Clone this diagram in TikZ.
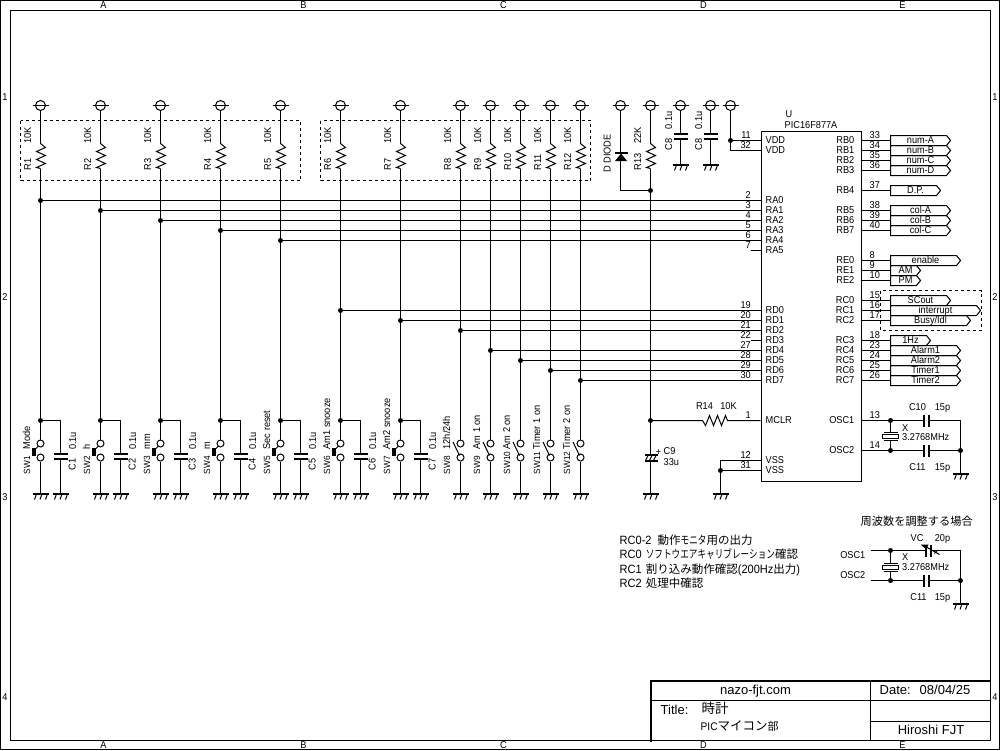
\documentclass[tikz,border=0pt]{standalone}
\usepackage{fontspec}
\setmainfont[FakeStretch=0.92]{Liberation Sans}
\newfontfamily\plainsans{Liberation Sans}
\newfontfamily\cjk{Noto Sans CJK JP}
\newfontfamily\kana[FakeStretch=0.75]{Noto Sans CJK JP}
\newcommand{\jp}[1]{{\cjk\fontsize{11.5}{13}\selectfont #1}}
\newcommand{\jk}[1]{{\kana\fontsize{11.5}{13}\selectfont #1}}
\tikzset{
  wire/.style={line width=1pt},
  lbl/.style={inner sep=0pt,text height=6pt,text depth=0pt,font=\fontsize{10}{11}\selectfont},
  rot/.style={lbl,rotate=90},
  rotsw/.style={rot,font=\fontsize{9}{10}\selectfont},
  big/.style={lbl,font=\fontsize{12}{13}\selectfont,anchor=west},
  ttl/.style={lbl,font=\plainsans\fontsize{13}{14}\selectfont},
  dot/.style={circle,fill=black,inner sep=0pt,minimum size=5pt},
  term/.style={circle,draw,line width=1pt,inner sep=0pt,minimum size=7pt},
  pwrc/.style={circle,draw,line width=1pt,inner sep=0pt,minimum size=10pt},
  gnd/.pic={\draw[line width=2pt] (-8,0)--(8.5,0);
    \foreach \d in {-4,1.5,7}{\draw[line width=1pt] (\d,0.5)--(\d-2,6);}},
  groupbox/.style={dashed,line width=1pt,dash pattern=on 3pt off 3pt},
  plate/.style={line width=2pt},
}
\newcommand{\pwrsym}[2]{\node[pwrc] (#1) at (#2,105) {};
  \draw[wire] ([xshift=-8pt]#1.center) -- ([xshift=8pt]#1.center);}
\newcommand{\vzig}[1]{\draw[wire] (#1) -- ++(5,4) -- ++(-9,4) -- ++(9,4) -- ++(-9,4) -- ++(9,4) -- ++(-9,4) -- ++(4,1);}
\newcommand{\vcap}[3]{% name, x, y of upper plate
  \coordinate (#1a) at (#2,#3); \coordinate (#1b) at (#2,#3+5);
  \draw[plate] (#2-7,#3) -- (#2+7,#3); \draw[plate] (#2-7,#3+5) -- (#2+7,#3+5);}
\newcommand{\hcap}[3]{% name, x of left plate, y
  \coordinate (#1a) at (#2,#3); \coordinate (#1b) at (#2+5,#3);
  \draw[plate] (#2,#3-6) -- (#2,#3+6); \draw[plate] (#2+5,#3-6) -- (#2+5,#3+6);}
\newcommand{\xtal}[3]{% name, x, top plate y
  \coordinate (#1a) at (#2,#3); \coordinate (#1b) at (#2,#3+8);
  \draw[wire] (#2-7,#3) -- (#2+7,#3); \draw[wire] (#2-7,#3+8) -- (#2+7,#3+8);
  \draw[wire] (#2-8,#3+2) rectangle (#2+8,#3+6);}
\begin{document}
\begin{tikzpicture}[x=1pt,y=-1pt,xshift=0.5pt,yshift=-0.5pt]
\useasboundingbox (-0.5,-0.5) rectangle (999.5,749.5);
\fill[white] (-0.5,-0.5) rectangle (999.5,749.5);
% frames
\draw[wire] (0,0) rectangle (999,749);
\draw[wire] (10,10) rectangle (990,740);
\foreach \t/\x in {A/103,B/303,C/503,D/703,E/902}{
  \node[lbl] (top\t) at (\x,5) {\t};
  \node[lbl] (bot\t) at (\x,745) {\t};}
\foreach \t/\y in {1/97,2/297,3/497,4/697}{
  \node[lbl] (lft\t) at (4.5,\y) {\t};
  \node[lbl] (rgt\t) at (994.5,\y) {\t};}
% dashed groups
\draw[groupbox] (20,120) rectangle (300,180);
\draw[groupbox] (320,120) rectangle (590,180);
\draw[groupbox] (880,290) rectangle (980.5,330);
% IC
\node[draw,line width=1pt,inner sep=0pt,minimum width=100pt,minimum height=350pt,anchor=north west] (U) at (760,130) {};
\node[lbl,anchor=west] (Uref) at (785,114) {U};
\node[lbl,anchor=west] (Uval) at (784,125) {PIC16F877A};
\foreach \t/\y/\m in {VDD/140/11,VDD/150/32,RA0/200/2,RA1/210/3,RA2/220/4,RA3/230/5,RA4/240/6,RA5/250/7,
  RD0/310/19,RD1/320/20,RD2/330/21,RD3/340/22,RD4/350/27,RD5/360/28,RD6/370/29,RD7/380/30,MCLR/420/1,VSS/460/12,VSS/470/31}{
  \node[lbl,anchor=west] (pn\m) at (765,\y) {\t};
  \node[lbl,anchor=east] (num\m) at (750.5,\y-5.5) {\m};
  \coordinate (L\m) at (760,\y);}
\foreach \t/\y/\m in {RB0/140/33,RB1/150/34,RB2/160/35,RB3/170/36,RB4/190/37,RB5/210/38,RB6/220/39,RB7/230/40,
  RE0/260/8,RE1/270/9,RE2/280/10,RC0/300/15,RC1/310/16,RC2/320/17,RC3/340/18,RC4/350/23,RC5/360/24,RC6/370/25,RC7/380/26,OSC1/420/13,OSC2/450/14}{
  \node[lbl,anchor=east] (pn\m) at (854,\y) {\t};
  \node[lbl,anchor=west] (num\m) at (869,\y-5.5) {\m};
  \coordinate (R\m) at (860,\y);}
% flags
\foreach \m/\y/\tip/\t in {33/140/950/num-A,34/150/950/num-B,35/160/950/num-C,36/170/950/num-D,37/190/940/D.P.,
  38/210/950/col-A,39/220/950/col-B,40/230/950/col-C,8/260/960/enable,9/270/920/AM,10/280/920/PM,
  15/300/950/SCout,16/310/980/interrupt,17/320/970/{Busy/Idl},18/340/930/1Hz,23/350/960/Alarm1,24/360/960/Alarm2,25/370/960/Timer1,26/380/960/Timer2}{
  \coordinate (F\m) at (890,\y);
  \draw[wire] (R\m) -- (F\m);
  \draw[wire] (890,\y-5) -- (\tip-4,\y-5) -- (\tip,\y) -- (\tip-4,\y+5) -- (890,\y+5) -- cycle;
  \node[lbl] (flag\m) at ({(890+\tip)/2},\y) {\t};}
% pull-ups, switches
\foreach \n/\x/\lab in {1/40/Mode,2/100/h,3/160/mm,4/220/m,5/280/Sec reset,6/340/Am1 snooze,7/400/Am2 snooze,
  8/460/{12h/24h},9/490/Am 1 on,10/520/Am 2 on,11/550/Timer 1 on,12/580/Timer 2 on}{
  \pwrsym{V\n}{\x}
  \coordinate (Ra\n) at (\x,143);
  \coordinate (Rb\n) at (\x,168);
  \draw[wire] (V\n) -- (Ra\n);
  \vzig{Ra\n}
  \node[rot,anchor=west] (Rn\n) at (\x-12.5,170) {R\n};
  \node[rot] (Rv\n) at (\x-12.5,135) {10K};
  \node[term] (Sa\n) at (\x,443) {};
  \node[term] (Sb\n) at (\x,457) {};
  \coordinate (G\n) at (\x,493);
  \draw[wire] (Rb\n) -- (Sa\n);
  \draw[wire] (Sb\n) -- (G\n);
  \pic at (G\n) {gnd};
  \node[rotsw,anchor=west] (Sn\n) at (\x-13.5,474) {SW\n};
  \node[rot,anchor=west] (Sl\n) at (\x-13.5,449) {\lab};
}
\foreach \n/\x in {1/40,2/100,3/160,4/220,5/280,6/340,7/400}{
  \node[dot] (J\n) at (\x,420) {};
  \coordinate (Tp\n) at (\x+20,420);
  \coordinate (Cg\n) at (\x+20,493);
  \vcap{Cc\n}{\x+20}{453}
  \draw[wire] (J\n) -- (Tp\n) -- (Cc\n a);
  \draw[wire] (Cc\n b) -- (Cg\n);
  \pic at (Cg\n) {gnd};
  \node[rot] (Cv\n) at (\x+32.5,440.5) {0.1u};
  \node[rot] (Cn\n) at (\x+32,464) {C\n};
  \fill (\x-8.5,447) rectangle (\x-4.5,455);
  \draw[wire] (\x-4.5,448) -- (\x-2,445.5);
}
\foreach \n/\x in {8/460,9/490,10/520,11/550,12/580}{
  \coordinate (Ta\n) at (\x-7.5,441.5);
  \coordinate (Tb\n) at (\x-1,455);
  \draw[wire] (Ta\n) -- (Tb\n);
}
% port A and D buses
\foreach \n/\m/\x/\y in {1/2/40/200,2/3/100/210,3/4/160/220,4/5/220/230,5/6/280/240,
  6/19/340/310,7/20/400/320,8/21/460/330,9/27/490/350,10/28/520/360,11/29/550/370,12/30/580/380}{
  \node[dot] (B\n) at (\x,\y) {};
  \draw[wire] (B\n) -- (L\m);
}
\coordinate (St7) at (750,250); \draw[wire] (St7) -- (L7);
\coordinate (St22) at (750,340); \draw[wire] (St22) -- (L22);
% diode and R13
\pwrsym{VD}{620}
\coordinate (Da) at (620,152);
\coordinate (Db) at (620,160);
\coordinate (Dc) at (620,190);
\draw[wire] (VD) -- (Da);
\draw[plate] (614,152.5) -- (627,152.5);
\fill (620.5,153) -- (614.5,160.5) -- (626.5,160.5) -- cycle;
\draw[wire] (Db) -- (Dc);
\node[rot] (Dlab) at (607,153) {D DIODE};
\pwrsym{VR}{650}
\coordinate (Ra13) at (650,143);
\coordinate (Rb13) at (650,168);
\draw[wire] (VR) -- (Ra13);
\vzig{Ra13}
\node[dot] (JD) at (650,190) {};
\node[dot] (JM) at (650,420) {};
\draw[wire] (Dc) -- (JD);
\draw[wire] (Rb13) -- (JD) -- (JM);
\node[rot,anchor=west] (Rn13) at (637.5,170) {R13};
\node[rot] (Rv13) at (637.5,135) {22K};
% decoupling
\foreach \n/\x in {a/680,b/710}{
  \pwrsym{VC\n}{\x}
  \vcap{Cd\n}{\x}{133}
  \coordinate (Gd\n) at (\x,164);
  \draw[wire] (VC\n) -- (Cd\n a);
  \draw[wire] (Cd\n b) -- (Gd\n);
  \pic at (Gd\n) {gnd};
  \node[rot] (Cdv\n) at (\x-11.5,120) {0.1u};
  \node[rot] (Cdn\n) at (\x-11.5,144) {C8};
}
\pwrsym{VU}{730}
\node[dot] (JV) at (730,140) {};
\coordinate (CV) at (730,150);
\draw[wire] (VU) -- (JV) -- (CV) -- (L32);
\draw[wire] (JV) -- (L11);
% MCLR
\coordinate (Za) at (702,420);
\coordinate (Zb) at (727,420);
\draw[wire] (JM) -- (Za) -- ++(3,5) -- ++(4,-10) -- ++(4,10) -- ++(4,-10) -- ++(4,10) -- ++(4,-10) -- (Zb) -- (L1);
\node[lbl] (R14n) at (704,406) {R14};
\node[lbl] (R14v) at (728,406) {10K};
% C9
\coordinate (C9a) at (650,454);
\coordinate (C9b) at (650,460);
\coordinate (G9) at (650,493);
\draw[wire] (JM) -- (C9a);
\draw[wire] (C9b) -- (G9);
\draw[plate] (644,454) -- (657,454);
\draw[plate] (644,460) -- (657,460);
\foreach \d in {648,652,656}{\draw[wire] (\d,454) -- (\d-3,460);}
\pic at (G9) {gnd};
\node[lbl] (C9p) at (658,452) {+};
\node[lbl,anchor=west] (C9n) at (663,450.5) {C9};
\node[lbl,anchor=west] (C9v) at (663,461.5) {33u};
% VSS
\coordinate (Vs) at (720,460);
\node[dot] (JS) at (720,470) {};
\coordinate (GS) at (720,493);
\draw[wire] (L12) -- (Vs) -- (JS) -- (GS);
\draw[wire] (JS) -- (L31);
\pic at (GS) {gnd};
% oscillator
\node[dot] (O1) at (890,420) {};
\node[dot] (O2) at (890,450) {};
\node[dot] (O3) at (960,450) {};
\coordinate (O4) at (960,420);
\coordinate (GO) at (960,473);
\draw[wire] (R13) -- (O1);
\draw[wire] (R14) -- (O2);
\hcap{C10}{923}{420}
\hcap{C11}{923}{450}
\draw[wire] (O1) -- (C10a);
\draw[wire] (C10b) -- (O4) -- (O3) -- (GO);
\draw[wire] (O2) -- (C11a);
\draw[wire] (C11b) -- (O3);
\pic at (GO) {gnd};
\xtal{Xa}{890}{432}
\draw[wire] (O1) -- (Xaa);
\draw[wire] (Xab) -- (O2);
\node[lbl] (C10n) at (917,406.5) {C10};
\node[lbl] (C10v) at (942,406.5) {15p};
\node[lbl] (C11n) at (917,466.5) {C11};
\node[lbl] (C11v) at (942,466.5) {15p};
\node[lbl,anchor=west] (Xn) at (901.5,427.5) {X};
\node[lbl,anchor=west] (Xv) at (901.5,437) {3.2768MHz};
% notes
\node[big] (nA) at (619,541) {RC0-2\hspace{3pt} \jp{動作}\jk{モニタ}\jp{用の出力}};
\node[big] (nB) at (619,555) {RC0\hspace{1pt} \jk{ソフトウエアキャリブレーション}\jp{確認}};
\node[big] (nC) at (619,569.5) {RC1\hspace{1pt} \jp{割り込み動作確認}(200Hz\jp{出力})};
\node[big] (nD) at (619,584) {RC2\hspace{1pt} \jp{処理中確認}};
\node[lbl,anchor=west,font=\cjk\fontsize{11.2}{13}\selectfont] (nE) at (860,521.5) {周波数を調整する場合};
% alternative oscillator
\node[lbl,anchor=east] (aO1) at (865,555) {OSC1};
\node[lbl,anchor=east] (aO2) at (865,575) {OSC2};
\coordinate (A1) at (870,550);
\coordinate (A2) at (870,580);
\node[dot] (A3) at (890,550) {};
\node[dot] (A4) at (890,580) {};
\node[dot] (A5) at (960,580) {};
\coordinate (A6) at (960,550);
\coordinate (GA) at (960,603);
\hcap{VCc}{925.5}{550}
\hcap{Cb}{923}{580}
\draw[wire] (A1) -- (A3) -- (VCca);
\draw[wire] (VCcb) -- (A6) -- (A5) -- (GA);
\draw[wire] (A2) -- (A4) -- (Cba);
\draw[wire] (Cbb) -- (A5);
\pic at (GA) {gnd};
\xtal{Xb}{890}{562.5}
\draw[wire] (A3) -- (Xba);
\draw[wire] (Xbb) -- (A4);
\fill (920,544) -- (928,544) -- (926,549) -- cycle;
\draw[wire] (925,546) -- (939,554);
\draw[wire] (934,553) -- (937,549.5);
\node[lbl] (VCn) at (916.5,537.5) {VC};
\node[lbl] (VCv) at (942,537.5) {20p};
\node[lbl,anchor=west] (Xbn) at (901.5,556.5) {X};
\node[lbl,anchor=west] (Xbv) at (901.5,567) {3.2768MHz};
\node[lbl] (Cbn) at (918,596.5) {C11};
\node[lbl] (Cbv) at (942,596.5) {15p};
% title block
\draw[line width=2.5pt] (650.7,741) -- (650.7,680.5) -- (990,680.5);
\draw[wire] (650,700) -- (990,700);
\draw[wire] (870,680) -- (870,740);
\draw[wire] (870,720.5) -- (990,720.5);
\node[ttl] (tA) at (755,691) {nazo-fjt.com};
\node[ttl,anchor=west] (tB) at (879,691) {Date:};
\node[ttl,anchor=west] (tC) at (919,691) {08/04/25};
\node[ttl,anchor=west] (tD) at (660,710.5) {Title:};
\node[ttl,anchor=west,font=\cjk\fontsize{13.5}{15}\selectfont] (tE) at (701,710) {時計};
\node[lbl,anchor=west,font=\fontsize{11}{14}\selectfont] (tF) at (700,727) {PIC{\cjk\fontsize{12.5}{15}\selectfont マイコン}{\cjk\fontsize{11}{15}\selectfont 部}};
\node[ttl] (tG) at (930.5,731) {Hiroshi FJT};
\end{tikzpicture}
\end{document}
